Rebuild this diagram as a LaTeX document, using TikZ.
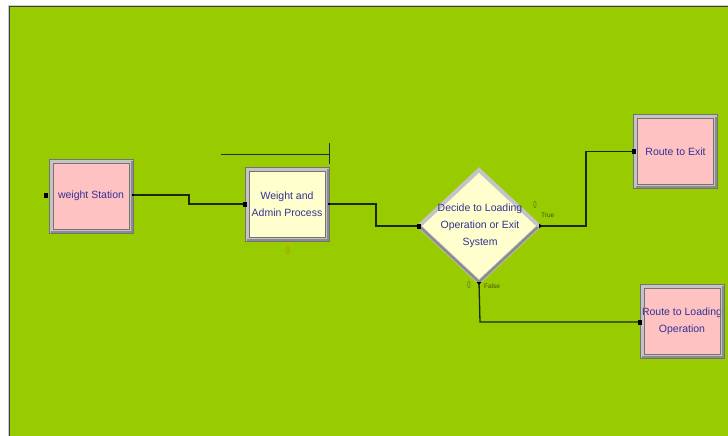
\documentclass[tikz,border=0pt]{standalone}
\usepackage{fontspec}
\setmainfont{Liberation Sans}
\usetikzlibrary{calc}
\definecolor{bg}{RGB}{153,204,0}
\definecolor{pinkfill}{RGB}{255,194,194}
\definecolor{yelfill}{RGB}{255,255,206}
\definecolor{navy}{RGB}{52,48,150}
\definecolor{bevlight}{RGB}{196,196,196}
\definecolor{bevdark}{RGB}{140,140,140}
\definecolor{bevline}{RGB}{115,115,115}
\definecolor{conn}{RGB}{28,40,8}
\definecolor{lbl}{RGB}{70,80,10}
\definecolor{cnt}{RGB}{185,130,20}
\definecolor{cntg}{RGB}{90,110,50}
\definecolor{qline}{RGB}{40,40,70}
\newcommand\bevelbox[1]{%
  \draw[bevdark,line width=2.5pt] ([shift={(2,-1.25)}]#1.south west) -- ([shift={(-1.25,-1.25)}]#1.south east) -- ([shift={(-1.25,2)}]#1.north east);
  \draw[bevline,line width=0.6pt] ([shift={(4,4)}]#1.north west) rectangle ([shift={(-4,-4)}]#1.south east);
  \draw[bevline,line width=0.6pt] (#1.north west) rectangle (#1.south east);
}
\newcommand\portsq[1]{\fill[black] ([shift={(-2,-2.5)}]#1) rectangle ([shift={(2,2.5)}]#1);}
\newcommand\portdot[1]{\fill[black] ([shift={(-1.3,-1.3)}]#1) rectangle ([shift={(1.3,1.3)}]#1);}
\tikzset{
  box/.style={rectangle, draw=bevlight, line width=4pt, minimum width=80pt, minimum height=70pt,
    inner sep=0pt, align=center, text=navy, font=\fontsize{10.5}{17}\selectfont},
  pinkbox/.style={box, fill=pinkfill},
  yelbox/.style={box, fill=yelfill},
  conline/.style={draw=conn, line width=1.3pt},
  smalllbl/.style={text=lbl, font=\fontsize{6.5}{6.5}\selectfont, inner sep=0pt},
  counter/.style={font=\fontsize{10}{10}\selectfont, inner sep=0pt, xscale=0.6},
}
\begin{document}
\begin{tikzpicture}[x=1pt,y=-1pt]
\useasboundingbox (0,0) rectangle (728,436);
\fill[white] (0,0) rectangle (728,436);
\fill[bg] (9,7) rectangle (728,436);
\draw[black!75,line width=1pt] (9,436) -- (9,7) -- (728,7);
\draw[black!20,line width=1pt] (8,436) -- (8,6) -- (728,6);

% blocks
\node[pinkbox] (ws) at (91,196) {weight Station};
\node[yelbox] (wa) at (287,204) {Weight and\\Admin Process};
\node[pinkbox] (re) at (675.5,151.5) {Route to Exit};
\node[pinkbox] (rl) at (682,321) {Route to Loading\\Operation};
\bevelbox{ws}
\bevelbox{wa}
\bevelbox{re}
\bevelbox{rl}

% decide diamond
\coordinate (dl) at (419,226);
\coordinate (dt) at (479,170);
\coordinate (dr) at (539,226);
\coordinate (db) at (479,282);
\draw[fill=yelfill, draw=bevlight, line width=4pt, line join=miter] (dl) -- (dt) -- (dr) -- (db) -- cycle;
\draw[bevdark, line width=2.5pt] ($(dl)!0.02!(db)$) -- (db) -- ($(dr)!0.02!(db)$);
\node[align=center, text=navy, font=\fontsize{10.5}{17}\selectfont, inner sep=0pt] (dec) at (480,226) {Decide to Loading\\Operation or Exit\\System};

% queue symbol
\coordinate (q1) at (221,154);
\coordinate (q2) at (329,154);
\coordinate (q3) at (329,143);
\coordinate (q4) at (329,164);
\draw[qline, line width=1pt] (q1) -- (q2);
\draw[qline, line width=1pt] (q3) -- (q4);

% connectors
\coordinate (wsin) at (46,195);
\draw[conline] (ws.east |- 0,195) -- (189,195) |- (wa.west);
\draw[conline] (wa.east) -- (376,204) |- (dl);
\draw[conline] (dr) -- (586,226) |- (re.west);
\draw[conline] (db) -- (480,322) -- (rl.west |- 0,322);

% ports
\portsq{wsin}
\portdot{ws.east |- 0,195}
\portsq{wa.west}
\portdot{wa.east}
\portsq{dl}
\fill[black] ($(dr)+(0,-2.5)$) -- ($(dr)+(3,0)$) -- ($(dr)+(0,2.5)$) -- cycle;
\fill[black] ($(db)+(-2.5,0)$) -- ($(db)+(2.5,0)$) -- ($(db)+(0,3)$) -- cycle;
\portsq{re.west}
\portsq{rl.west |- 0,322}

% labels
\node[smalllbl, anchor=west] (tl) at (541,215) {True};
\node[smalllbl, anchor=west] (fl) at (484,286) {False};
\node[counter, text=cnt] (c1) at (288,251) {0};
\node[counter, text=cntg] (c2) at (535,205) {0};
\node[counter, text=cntg] (c3) at (469,285) {0};
\end{tikzpicture}
\end{document}
